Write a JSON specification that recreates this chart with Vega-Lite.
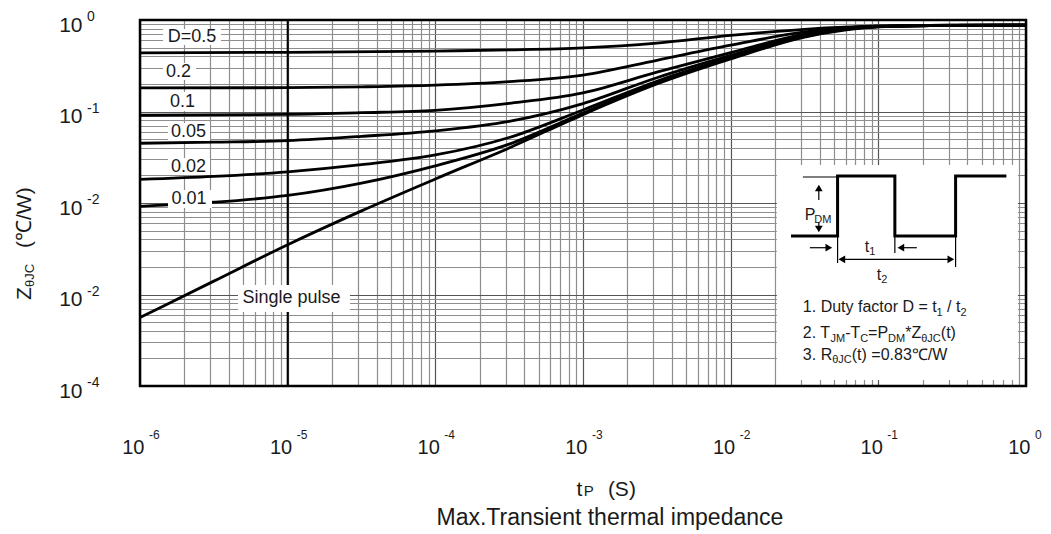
{
  "$schema": "https://vega.github.io/schema/vega-lite/v6.json",
  "width": 886,
  "height": 366,
  "autosize": {"type": "none"},
  "padding": {"left": 140, "top": 20, "right": 25, "bottom": 148},
  "background": "white",
  "config": {
    "view": {"stroke": null},
    "font": "Liberation Sans",
    "axis": {"ticks": false, "domain": false, "labelFont": "Liberation Sans", "labelColor": "#1a1a1a", "gridWidth": 1.2, "labelOverlap": false, "labelBound": false, "labelFlush": false},
    "text": {"font": "Liberation Sans", "color": "#1a1a1a"}
  },
  "datasets": {
    "curves": [
      {"D": "0.5", "t": 1e-6, "z": 0.438}, {"D": "0.5", "t": 1e-5, "z": 0.443}, {"D": "0.5", "t": 1e-4, "z": 0.458}, {"D": "0.5", "t": 3.162e-4, "z": 0.472}, {"D": "0.5", "t": 1e-3, "z": 0.497}, {"D": "0.5", "t": 3.162e-3, "z": 0.56}, {"D": "0.5", "t": 0.01, "z": 0.68}, {"D": "0.5", "t": 0.03162, "z": 0.79}, {"D": "0.5", "t": 0.1, "z": 0.86}, {"D": "0.5", "t": 0.3162, "z": 0.876}, {"D": "0.5", "t": 1, "z": 0.88},
      {"D": "0.2", "t": 1e-6, "z": 0.181}, {"D": "0.2", "t": 1e-5, "z": 0.182}, {"D": "0.2", "t": 3.162e-5, "z": 0.186}, {"D": "0.2", "t": 1e-4, "z": 0.194}, {"D": "0.2", "t": 3.162e-4, "z": 0.212}, {"D": "0.2", "t": 1e-3, "z": 0.25}, {"D": "0.2", "t": 3.162e-3, "z": 0.363}, {"D": "0.2", "t": 0.01, "z": 0.53}, {"D": "0.2", "t": 0.03162, "z": 0.74}, {"D": "0.2", "t": 0.1, "z": 0.855}, {"D": "0.2", "t": 0.3162, "z": 0.876}, {"D": "0.2", "t": 1, "z": 0.88},
      {"D": "0.1", "t": 1e-6, "z": 0.091}, {"D": "0.1", "t": 1e-5, "z": 0.093}, {"D": "0.1", "t": 3.162e-5, "z": 0.097}, {"D": "0.1", "t": 1e-4, "z": 0.103}, {"D": "0.1", "t": 3.162e-4, "z": 0.123}, {"D": "0.1", "t": 1e-3, "z": 0.16}, {"D": "0.1", "t": 3.162e-3, "z": 0.269}, {"D": "0.1", "t": 0.01, "z": 0.44}, {"D": "0.1", "t": 0.03162, "z": 0.70}, {"D": "0.1", "t": 0.1, "z": 0.85}, {"D": "0.1", "t": 0.3162, "z": 0.875}, {"D": "0.1", "t": 1, "z": 0.88},
      {"D": "0.05", "t": 1e-6, "z": 0.045}, {"D": "0.05", "t": 3.162e-6, "z": 0.0462}, {"D": "0.05", "t": 1e-5, "z": 0.048}, {"D": "0.05", "t": 3.162e-5, "z": 0.0535}, {"D": "0.05", "t": 1e-4, "z": 0.0615}, {"D": "0.05", "t": 3.162e-4, "z": 0.078}, {"D": "0.05", "t": 1e-3, "z": 0.122}, {"D": "0.05", "t": 3.162e-3, "z": 0.234}, {"D": "0.05", "t": 0.01, "z": 0.41}, {"D": "0.05", "t": 0.03162, "z": 0.68}, {"D": "0.05", "t": 0.1, "z": 0.848}, {"D": "0.05", "t": 0.3162, "z": 0.875}, {"D": "0.05", "t": 1, "z": 0.88},
      {"D": "0.02", "t": 1e-6, "z": 0.0181}, {"D": "0.02", "t": 3.162e-6, "z": 0.0195}, {"D": "0.02", "t": 1e-5, "z": 0.0219}, {"D": "0.02", "t": 3.162e-5, "z": 0.0262}, {"D": "0.02", "t": 1e-4, "z": 0.0335}, {"D": "0.02", "t": 3.162e-4, "z": 0.052}, {"D": "0.02", "t": 1e-3, "z": 0.104}, {"D": "0.02", "t": 3.162e-3, "z": 0.214}, {"D": "0.02", "t": 0.01, "z": 0.39}, {"D": "0.02", "t": 0.03162, "z": 0.665}, {"D": "0.02", "t": 0.1, "z": 0.846}, {"D": "0.02", "t": 0.3162, "z": 0.875}, {"D": "0.02", "t": 1, "z": 0.88},
      {"D": "0.01", "t": 1e-6, "z": 0.0092}, {"D": "0.01", "t": 3.162e-6, "z": 0.0102}, {"D": "0.01", "t": 1e-5, "z": 0.0121}, {"D": "0.01", "t": 3.162e-5, "z": 0.0165}, {"D": "0.01", "t": 1e-4, "z": 0.0255}, {"D": "0.01", "t": 3.162e-4, "z": 0.044}, {"D": "0.01", "t": 1e-3, "z": 0.096}, {"D": "0.01", "t": 3.162e-3, "z": 0.2065}, {"D": "0.01", "t": 0.01, "z": 0.383}, {"D": "0.01", "t": 0.03162, "z": 0.66}, {"D": "0.01", "t": 0.1, "z": 0.845}, {"D": "0.01", "t": 0.3162, "z": 0.875}, {"D": "0.01", "t": 1, "z": 0.88},
      {"D": "single", "t": 1e-6, "z": 0.00056}, {"D": "single", "t": 3.162e-6, "z": 0.0014}, {"D": "single", "t": 1e-5, "z": 0.0035}, {"D": "single", "t": 3.162e-5, "z": 0.0082}, {"D": "single", "t": 1e-4, "z": 0.0183}, {"D": "single", "t": 3.162e-4, "z": 0.040}, {"D": "single", "t": 1e-3, "z": 0.0925}, {"D": "single", "t": 3.162e-3, "z": 0.1995}, {"D": "single", "t": 0.01, "z": 0.375}, {"D": "single", "t": 0.03162, "z": 0.65}, {"D": "single", "t": 0.1, "z": 0.843}, {"D": "single", "t": 0.3162, "z": 0.875}, {"D": "single", "t": 1, "z": 0.88}
    ],
    "labelBoxes": [
      {"t1": 1.431e-6, "t2": 3.535e-6, "z1": 0.5329, "z2": 0.7975},
      {"t1": 1.431e-6, "t2": 2.393e-6, "z1": 0.2210, "z2": 0.3389},
      {"t1": 1.548e-6, "t2": 2.629e-6, "z1": 0.1013, "z2": 0.1633},
      {"t1": 1.548e-6, "t2": 2.978e-6, "z1": 0.0476, "z2": 0.07487},
      {"t1": 1.548e-6, "t2": 2.978e-6, "z1": 0.02023, "z2": 0.03103},
      {"t1": 1.548e-6, "t2": 3.073e-6, "z1": 0.008818, "z2": 0.01387},
      {"t1": 4.609e-6, "t2": 2.641e-5, "z1": 0.0006437, "z2": 0.00127}
    ],
    "labels": [
      {"t": 2.25e-6, "z": 0.6569, "s": "D=0.5"},
      {"t": 1.823e-6, "z": 0.2723, "s": "0.2"},
      {"t": 1.939e-6, "z": 0.127, "s": "0.1"},
      {"t": 2.13e-6, "z": 0.0597, "s": "0.05"},
      {"t": 2.13e-6, "z": 0.02492, "s": "0.02"},
      {"t": 2.147e-6, "z": 0.01106, "s": "0.01"},
      {"t": 1.061e-5, "z": 0.0009157, "s": "Single pulse"}
    ],
    "insetBox": [{"t1": 0.02056, "t2": 0.881, "z1": 0.0001164, "z2": 0.026}],
    "wave": [
      {"i": 0, "t": 0.02624, "z": 0.00436}, {"i": 1, "t": 0.05297, "z": 0.00436}, {"i": 2, "t": 0.05297, "z": 0.01973}, {"i": 3, "t": 0.1294, "z": 0.01973},
      {"i": 4, "t": 0.1294, "z": 0.00436}, {"i": 5, "t": 0.3336, "z": 0.00436}, {"i": 6, "t": 0.3336, "z": 0.01973}, {"i": 7, "t": 0.7194, "z": 0.01973}
    ],
    "thin": [
      {"t1": 0.03083, "t2": 0.05297, "z1": 0.01924, "z2": 0.01924},
      {"t1": 0.03953, "t2": 0.03953, "z1": 0.01078, "z2": 0.01459},
      {"t1": 0.03953, "t2": 0.03953, "z1": 0.006045, "z2": 0.0052},
      {"t1": 0.03437, "t2": 0.04623, "z1": 0.003246, "z2": 0.003246},
      {"t1": 0.14206, "t2": 0.18226, "z1": 0.003246, "z2": 0.003246},
      {"t1": 0.0566, "t2": 0.30969, "z1": 0.002424, "z2": 0.002424},
      {"t1": 0.05297, "t2": 0.05297, "z1": 0.00436, "z2": 0.00221},
      {"t1": 0.1294, "t2": 0.1294, "z1": 0.00436, "z2": 0.00284},
      {"t1": 0.3336, "t2": 0.3336, "z1": 0.00436, "z2": 0.002}
    ],
    "heads": [
      {"t": 0.03953, "z": 0.01459, "dir": "up"},
      {"t": 0.03953, "z": 0.0052, "dir": "down"},
      {"t": 0.04623, "z": 0.003246, "dir": "right"},
      {"t": 0.14206, "z": 0.003246, "dir": "left"},
      {"t": 0.0566, "z": 0.002424, "dir": "left"},
      {"t": 0.30969, "z": 0.002424, "dir": "right"}
    ],
    "insetMain": [
      {"t": 0.03083, "z": 0.0006374, "s": "1. Duty factor D = t"},
      {"t": 0.29227, "z": 0.0006374, "s": "/ t"},
      {"t": 0.03083, "z": 0.0003313, "s": "2. T"},
      {"t": 0.05959, "z": 0.0003313, "s": "-T"},
      {"t": 0.08528, "z": 0.0003313, "s": "=P"},
      {"t": 0.1521, "z": 0.0003313, "s": "*Z"},
      {"t": 0.26494, "z": 0.0003313, "s": "(t)"},
      {"t": 0.03083, "z": 0.0001924, "s": "3. R"},
      {"t": 0.06606, "z": 0.0001924, "s": "(t) =0.83℃/W"},
      {"t": 0.0318, "z": 0.00652, "s": "P"},
      {"t": 0.08101, "z": 0.002936, "s": "t"},
      {"t": 0.09768, "z": 0.00144, "s": "t"}
    ],
    "insetSub": [
      {"t": 0.24803, "z": 0.0005895, "s": "1"},
      {"t": 0.35956, "z": 0.0005895, "s": "2"},
      {"t": 0.04739, "z": 0.0003064, "s": "JM"},
      {"t": 0.07541, "z": 0.0003064, "s": "C"},
      {"t": 0.11648, "z": 0.0003064, "s": "DM"},
      {"t": 0.19514, "z": 0.0003064, "s": "θJC"},
      {"t": 0.04866, "z": 0.0001784, "s": "θJC"},
      {"t": 0.03687, "z": 0.00612, "s": "DM"},
      {"t": 0.08693, "z": 0.002702, "s": "1"},
      {"t": 0.10478, "z": 0.001335, "s": "2"}
    ],
    "xExp": [
      {"t": 1e-6, "e": "-6"}, {"t": 1e-5, "e": "-5"}, {"t": 1e-4, "e": "-4"}, {"t": 1e-3, "e": "-3"}, {"t": 1e-2, "e": "-2"}, {"t": 0.1, "e": "-1"}, {"t": 1, "e": "0"}
    ],
    "yExp": [
      {"z": 1, "e": "0"}, {"z": 0.1, "e": "-1"}, {"z": 0.01, "e": "-2"}, {"z": 0.001, "e": "-2"}, {"z": 0.0001, "e": "-4"}
    ],
    "xTitleBig": [{"t": 0.000905, "s": "t"}, {"t": 0.001474, "s": "(S)"}],
    "xTitleSmall": [{"t": 0.00101, "s": "P"}],
    "caption": [{"t": 0.001521, "s": "Max.Transient thermal impedance"}]
  },
  "layer": [
    {
      "data": {"name": "curves"},
      "mark": {"type": "line", "color": "#000", "strokeWidth": 2.8, "interpolate": "monotone"},
      "encoding": {
        "x": {"field": "t", "type": "quantitative", "title": null,
          "scale": {"type": "log", "domain": [1e-6, 1], "nice": false},
          "axis": {
            "values": [1e-6,2e-6,3e-6,4e-6,5e-6,6e-6,7e-6,8e-6,9e-6,1e-5,2e-5,3e-5,4e-5,5e-5,6e-5,7e-5,8e-5,9e-5,1e-4,2e-4,3e-4,4e-4,5e-4,6e-4,7e-4,8e-4,9e-4,1e-3,2e-3,3e-3,4e-3,5e-3,6e-3,7e-3,8e-3,9e-3,0.01,0.02,0.03,0.04,0.05,0.06,0.07,0.08,0.09,0.1,0.2,0.3,0.4,0.5,0.6,0.7,0.8,0.9,1],
            "grid": true,
            "gridColor": {"condition": {"test": "abs(log(datum.value)/LN10 - round(log(datum.value)/LN10)) < 1e-6", "value": "#555555"}, "value": "#8e8e8e"},
            "labelExpr": "abs(log(datum.value)/LN10 - round(log(datum.value)/LN10)) < 1e-6 ? '10' : ''",
            "labelFontSize": 20, "labelAlign": "right", "labelBaseline": "alphabetic", "labelPadding": 67, "labelOffset": 4, "title": null
          }
        },
        "y": {"field": "z", "type": "quantitative", "title": null,
          "scale": {"type": "log", "domain": [1e-4, 1], "nice": false},
          "axis": {
            "values": [1e-4,2e-4,3e-4,4e-4,5e-4,6e-4,7e-4,8e-4,9e-4,1e-3,2e-3,3e-3,4e-3,5e-3,6e-3,7e-3,8e-3,9e-3,0.01,0.02,0.03,0.04,0.05,0.06,0.07,0.08,0.09,0.1,0.2,0.3,0.4,0.5,0.6,0.7,0.8,0.9,1],
            "grid": true,
            "gridColor": {"condition": {"test": "abs(log(datum.value)/LN10 - round(log(datum.value)/LN10)) < 1e-6", "value": "#555555"}, "value": "#8e8e8e"},
            "labelExpr": "abs(log(datum.value)/LN10 - round(log(datum.value)/LN10)) < 1e-6 ? '10' : ''",
            "labelFontSize": 21, "labelAlign": "right", "labelBaseline": "alphabetic", "labelPadding": 58, "labelOffset": 11, "title": null
          }
        },
        "detail": {"field": "D"}
      }
    },
    {
      "data": {"values": [{}]},
      "mark": {"type": "rule", "color": "#000", "strokeWidth": 2},
      "encoding": {
        "x": {"datum": 1e-5, "type": "quantitative", "title": null},
        "y": {"datum": 1e-4, "type": "quantitative", "title": null},
        "y2": {"datum": 1}
      }
    },
    {
      "data": {"name": "labelBoxes"},
      "mark": {"type": "rect", "fill": "white", "stroke": null},
      "encoding": {
        "x": {"field": "t1", "type": "quantitative", "title": null}, "x2": {"field": "t2"},
        "y": {"field": "z1", "type": "quantitative", "title": null}, "y2": {"field": "z2"}
      }
    },
    {
      "data": {"name": "labels"},
      "mark": {"type": "text", "fontSize": 18, "align": "center", "baseline": "middle"},
      "encoding": {
        "x": {"field": "t", "type": "quantitative", "title": null},
        "y": {"field": "z", "type": "quantitative", "title": null},
        "text": {"field": "s"}
      }
    },
    {
      "data": {"name": "insetBox"},
      "mark": {"type": "rect", "fill": "white", "stroke": null},
      "encoding": {
        "x": {"field": "t1", "type": "quantitative", "title": null}, "x2": {"field": "t2"},
        "y": {"field": "z1", "type": "quantitative", "title": null}, "y2": {"field": "z2"}
      }
    },
    {
      "data": {"name": "thin"},
      "mark": {"type": "rule", "color": "#000", "strokeWidth": 1.2},
      "encoding": {
        "x": {"field": "t1", "type": "quantitative", "title": null}, "x2": {"field": "t2"},
        "y": {"field": "z1", "type": "quantitative", "title": null}, "y2": {"field": "z2"}
      }
    },
    {
      "data": {"name": "wave"},
      "mark": {"type": "line", "color": "#000", "strokeWidth": 3, "interpolate": "linear", "strokeJoin": "miter", "strokeCap": "square"},
      "encoding": {
        "x": {"field": "t", "type": "quantitative", "title": null},
        "y": {"field": "z", "type": "quantitative", "title": null},
        "order": {"field": "i"}
      }
    },
    {
      "data": {"name": "heads"},
      "mark": {"type": "point", "filled": true, "color": "#000", "size": 60, "opacity": 1},
      "encoding": {
        "x": {"field": "t", "type": "quantitative", "title": null},
        "y": {"field": "z", "type": "quantitative", "title": null},
        "shape": {"field": "dir", "type": "nominal", "legend": null,
          "scale": {"domain": ["up", "down", "left", "right"], "range": ["triangle-up", "triangle-down", "triangle-left", "triangle-right"]}}
      }
    },
    {
      "data": {"name": "insetMain"},
      "mark": {"type": "text", "fontSize": 16, "align": "left", "baseline": "alphabetic"},
      "encoding": {
        "x": {"field": "t", "type": "quantitative", "title": null},
        "y": {"field": "z", "type": "quantitative", "title": null},
        "text": {"field": "s"}
      }
    },
    {
      "data": {"name": "insetSub"},
      "mark": {"type": "text", "fontSize": 11, "align": "left", "baseline": "alphabetic"},
      "encoding": {
        "x": {"field": "t", "type": "quantitative", "title": null},
        "y": {"field": "z", "type": "quantitative", "title": null},
        "text": {"field": "s"}
      }
    },
    {
      "data": {"name": "xExp"},
      "mark": {"type": "text", "fontSize": 12, "align": "left", "baseline": "alphabetic", "dx": 9, "dy": 53},
      "encoding": {
        "x": {"field": "t", "type": "quantitative", "title": null},
        "y": {"datum": 1e-4, "type": "quantitative", "title": null},
        "text": {"field": "e"}
      }
    },
    {
      "data": {"name": "yExp"},
      "mark": {"type": "text", "fontSize": 14, "align": "left", "baseline": "alphabetic", "dx": -53, "dy": 1},
      "encoding": {
        "x": {"datum": 1e-6, "type": "quantitative", "title": null},
        "y": {"field": "z", "type": "quantitative", "title": null},
        "text": {"field": "e"}
      }
    },
    {
      "data": {"name": "xTitleBig"},
      "mark": {"type": "text", "fontSize": 21, "align": "left", "baseline": "alphabetic", "dy": 110},
      "encoding": {
        "x": {"field": "t", "type": "quantitative", "title": null},
        "y": {"datum": 1e-4, "type": "quantitative", "title": null},
        "text": {"field": "s"}
      }
    },
    {
      "data": {"name": "xTitleSmall"},
      "mark": {"type": "text", "fontSize": 15, "align": "left", "baseline": "alphabetic", "dy": 110},
      "encoding": {
        "x": {"field": "t", "type": "quantitative", "title": null},
        "y": {"datum": 1e-4, "type": "quantitative", "title": null},
        "text": {"field": "s"}
      }
    },
    {
      "data": {"name": "caption"},
      "mark": {"type": "text", "fontSize": 23, "align": "center", "baseline": "alphabetic", "dy": 139},
      "encoding": {
        "x": {"field": "t", "type": "quantitative", "title": null},
        "y": {"datum": 1e-4, "type": "quantitative", "title": null},
        "text": {"field": "s"}
      }
    },
    {
      "data": {"values": [{"s": "Z"}]},
      "mark": {"type": "text", "fontSize": 21, "angle": 270, "align": "left", "baseline": "alphabetic", "dx": -97, "dy": -109},
      "encoding": {
        "x": {"datum": 1e-6, "type": "quantitative", "title": null},
        "y": {"datum": 0.01, "type": "quantitative", "title": null},
        "text": {"field": "s"}
      }
    },
    {
      "data": {"values": [{"s": "θJC"}]},
      "mark": {"type": "text", "fontSize": 13, "angle": 270, "align": "left", "baseline": "alphabetic", "dx": -84, "dy": -106},
      "encoding": {
        "x": {"datum": 1e-6, "type": "quantitative", "title": null},
        "y": {"datum": 0.01, "type": "quantitative", "title": null},
        "text": {"field": "s"}
      }
    },
    {
      "data": {"values": [{"s": "(℃/W)"}]},
      "mark": {"type": "text", "fontSize": 21, "angle": 270, "align": "left", "baseline": "alphabetic", "dx": -45, "dy": -109},
      "encoding": {
        "x": {"datum": 1e-6, "type": "quantitative", "title": null},
        "y": {"datum": 0.01, "type": "quantitative", "title": null},
        "text": {"field": "s"}
      }
    },
    {
      "data": {"values": [{}]},
      "mark": {"type": "rect", "fill": null, "stroke": "#000", "strokeWidth": 2.5},
      "encoding": {
        "x": {"datum": 1e-6, "type": "quantitative", "title": null}, "x2": {"datum": 1},
        "y": {"datum": 1e-4, "type": "quantitative", "title": null}, "y2": {"datum": 1}
      }
    }
  ]
}
